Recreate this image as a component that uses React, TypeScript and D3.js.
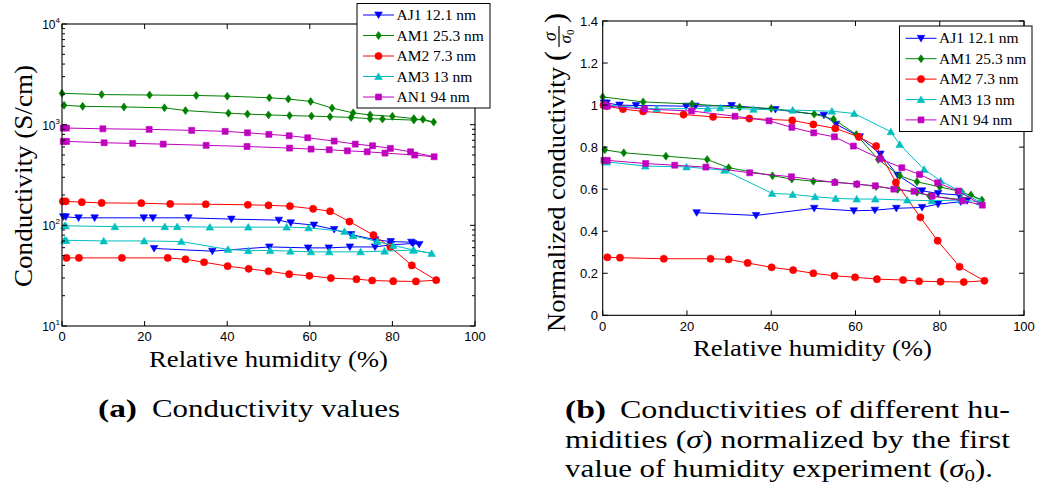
import React from "react";
import * as d3 from "d3";

// ---------------- DATA ----------------
const sampleNames = ["AJ1 12.1 nm", "AM1 25.3 nm", "AM2 7.3 nm", "AM3 13 nm", "AN1 94 nm"];
const sampleColors = ["#0000ff", "#008000", "#ff0000", "#00bfbf", "#bf00bf"];
const sampleMarkers = ["triDown", "diamond", "circle", "triUp", "square"];

// relative humidity (%) rising branch, conductivity (S/cm), normalized conductivity
const aj1UpRH = [0.3, 0.9, 4.0, 7.9, 19.8, 22.0, 30.6, 41.0, 52.5, 55.4, 61.0, 65.9, 70.0, 75.8, 79.6, 84.6, 86.5];
const aj1UpSigma = [121.5, 121.5, 118.7, 118.7, 118.7, 118.7, 118.7, 115.3, 112.6, 105.9, 100.5, 91, 81, 72, 69, 68, 64.6];
const aj1UpNorm = [1.01, 1.01, 1.0, 0.998, 0.995, 0.995, 0.998, 0.979, 0.952, 0.909, 0.849, 0.767, 0.667, 0.592, 0.58, 0.572, 0.545];
const aj1DownRH = [22.3, 36.4, 50.2, 59.6, 64.6, 69.7, 75.8, 79.6, 85.0];
const aj1DownSigma = [58.9, 55.4, 61, 59.7, 59.7, 61, 61, 64, 66];
const aj1DownNorm = [0.488, 0.475, 0.509, 0.497, 0.5, 0.509, 0.513, 0.529, 0.54];

const am1UpRH = [0, 9.6, 21.2, 32.5, 40, 50.2, 54.8, 60.2, 65.4, 70.5, 74.6, 80, 85.2, 90];
const am1UpSigma = [2050, 1990, 1970, 1950, 1920, 1850, 1800, 1700, 1460, 1310, 1250, 1210, 1150, 1060];
const am1UpNorm = [1.039, 1.015, 1.005, 0.99, 0.984, 0.957, 0.933, 0.86, 0.741, 0.664, 0.635, 0.611, 0.587, 0.548];
const am1DownRH = [0.5, 5, 15, 24.8, 29.9, 40.3, 44.9, 50, 55.1, 60.4, 64.9, 70, 74.6, 77.6, 85.2, 87.4];
const am1DownSigma = [1560, 1520, 1500, 1470, 1380, 1300, 1273, 1250, 1230, 1216, 1200, 1180, 1146, 1137, 1111, 1130];
const am1DownNorm = [0.787, 0.773, 0.757, 0.741, 0.702, 0.664, 0.648, 0.638, 0.634, 0.624, 0.613, 0.599, 0.585, 0.568, 0.55, 0.572];

const am2UpRH = [0.2, 0.9, 4.8, 9.6, 19.2, 26.2, 34.8, 45, 50, 55.2, 60.8, 64.9, 69.6, 75.4, 79.5, 84.7, 90.6];
const am2UpSigma = [173, 173, 170, 167, 166, 163, 162, 160, 158, 155, 146, 138, 109, 80, 61, 40, 28.5];
const am2UpNorm = [1.0, 0.995, 0.981, 0.97, 0.955, 0.944, 0.936, 0.927, 0.908, 0.889, 0.849, 0.805, 0.632, 0.466, 0.355, 0.231, 0.164];
const am2DownRH = [1.1, 4.1, 14.5, 25.6, 29.9, 34.4, 40.1, 45.2, 50, 55, 59.9, 65.1, 71.3, 75.1, 80.2, 85.7];
const am2DownSigma = [47.5, 47.5, 47.5, 47.5, 46, 43, 39.3, 37, 35, 32.7, 31.5, 29.9, 29.2, 28.3, 27.9, 27.7];
const am2DownNorm = [0.276, 0.274, 0.269, 0.269, 0.266, 0.249, 0.228, 0.215, 0.2, 0.188, 0.181, 0.172, 0.168, 0.162, 0.16, 0.158];

const am3UpRH = [0.6, 0.9, 12.8, 24.9, 27.9, 35.8, 45.1, 54.4, 59.7, 68.4, 70.5, 76.3, 80.2, 85.1, 89.5];
const am3UpSigma = [99, 99, 97, 97, 97, 96, 96, 96, 94.4, 87, 79, 69, 63, 57, 52.6];
const am3UpNorm = [1.0, 1.0, 0.982, 0.984, 0.987, 0.98, 0.976, 0.971, 0.96, 0.873, 0.813, 0.694, 0.64, 0.587, 0.54];
const am3DownRH = [0.6, 1, 10.1, 19.9, 28.9, 40.2, 45.1, 50.4, 55.3, 60.3, 64.7, 72.3, 78.1, 85.1];
const am3DownSigma = [71, 71, 70, 70, 69, 57.6, 56, 56.3, 55.4, 54.5, 54.5, 54.5, 55.4, 56.7];
const am3DownNorm = [0.73, 0.73, 0.71, 0.706, 0.69, 0.58, 0.575, 0.564, 0.556, 0.553, 0.553, 0.548, 0.545, 0.548];

const an1UpRH = [0.3, 1.1, 9.9, 21.1, 31.4, 39.5, 44.9, 50.1, 55, 59.5, 65.9, 71, 75.2, 79.5, 84.4, 90.1];
const an1UpSigma = [925, 925, 910, 898, 878, 858, 831, 801, 776, 741, 687, 641, 617, 581, 538, 480];
const an1UpNorm = [1.0, 0.995, 0.981, 0.972, 0.947, 0.925, 0.894, 0.868, 0.849, 0.805, 0.744, 0.702, 0.67, 0.63, 0.591, 0.524];
const an1DownRH = [0.3, 1.1, 10.2, 17.1, 24.5, 34.9, 44.8, 55.1, 60.3, 64.7, 69.1, 73.9, 78.2, 85.4];
const an1DownSigma = [682, 682, 661, 652, 641, 623, 607, 585, 572, 563, 550, 538, 522, 499];
const an1DownNorm = [0.737, 0.737, 0.722, 0.714, 0.705, 0.678, 0.659, 0.632, 0.624, 0.616, 0.6, 0.59, 0.567, 0.545];

const xTickValues = [0, 20, 40, 60, 80, 100];
const logMajorTicks = [10, 100, 1000, 10000];
const logExponents = ["1", "2", "3", "4"];
const normTickValues = [0, 0.2, 0.4, 0.6, 0.8, 1, 1.2, 1.4];
const normTickLabels = ["0", "0.2", "0.4", "0.6", "0.8", "1", "1.2", "1.4"];

// ---------------- BUILD ----------------
const rev = (a: number[]) => a.slice().reverse();
const branches = [
  [aj1UpRH, aj1UpSigma, aj1UpNorm, aj1DownRH, aj1DownSigma, aj1DownNorm],
  [am1UpRH, am1UpSigma, am1UpNorm, am1DownRH, am1DownSigma, am1DownNorm],
  [am2UpRH, am2UpSigma, am2UpNorm, am2DownRH, am2DownSigma, am2DownNorm],
  [am3UpRH, am3UpSigma, am3UpNorm, am3DownRH, am3DownSigma, am3DownNorm],
  [an1UpRH, an1UpSigma, an1UpNorm, an1DownRH, an1DownSigma, an1DownNorm],
];
const series = branches.map((b, i) => ({
  name: sampleNames[i],
  color: sampleColors[i],
  marker: sampleMarkers[i],
  rh: [...b[0], ...rev(b[3])],
  sigma: [...b[1], ...rev(b[4])],
  norm: [...b[2], ...rev(b[5])],
}));

const SANS = "'Liberation Sans', Arial, Helvetica, sans-serif";
const SERIF = "'Liberation Serif', 'Times New Roman', serif";

function markerPath(kind: string): string {
  switch (kind) {
    case "circle":
      return "M3.6,0A3.6,3.6 0 1,1 -3.6,0A3.6,3.6 0 1,1 3.6,0Z";
    case "square":
      return "M-3,-3H3V3H-3Z";
    case "diamond":
      return "M0,-4L2.9,0L0,4L-2.9,0Z";
    case "triUp":
      return "M0,-3.6L3.8,3L-3.8,3Z";
    case "triDown":
      return "M0,3.6L3.8,-3L-3.8,-3Z";
  }
  return "";
}

// left panel
const xL = d3.scaleLinear().domain([0, 100]).range([62, 475]);
const yL = d3.scaleLog().domain([10, 10000]).range([326, 24]);
// right panel
const xR = d3.scaleLinear().domain([0, 100]).range([602.7, 1024]);
const yR = d3.scaleLinear().domain([0, 1.4]).range([315.3, 21]);

const line = d3.line<[number, number]>().x((d) => d[0]).y((d) => d[1]);

function Series({ xs, ys, color, marker }: { xs: number[]; ys: number[]; color: string; marker: string }) {
  const pts: [number, number][] = xs.map((x, i) => [x, ys[i]]);
  const mp = markerPath(marker);
  return (
    <g>
      <path d={line(pts) || ""} fill="none" stroke={color} strokeWidth={1} />
      {pts.map(([x, y], i) => (
        <path key={i} d={mp} transform={`translate(${x},${y})`} fill={color} stroke={color} strokeWidth={0.6} />
      ))}
    </g>
  );
}

function Legend({ x, y, w, h, rowTop, rowStep }: { x: number; y: number; w: number; h: number; rowTop: number; rowStep: number }) {
  return (
    <g>
      <rect x={x} y={y} width={w} height={h} fill="#fff" stroke="#000" strokeWidth={1} />
      {series.map((s, i) => {
        const ry = y + rowTop + i * rowStep;
        return (
          <g key={s.name}>
            <line x1={x + 6} x2={x + 37} y1={ry} y2={ry} stroke={s.color} strokeWidth={1} />
            <path d={markerPath(s.marker)} transform={`translate(${x + 21.5},${ry})`} fill={s.color} stroke={s.color} strokeWidth={0.6} />
            <text x={x + 39.5} y={ry + 5} fontFamily={SERIF} fontSize={15.5} fill="#000">
              {s.name}
            </text>
          </g>
        );
      })}
    </g>
  );
}

export default function App() {
  const [lx0, lx1] = xL.range();
  const [ly1, ly0] = yL.range();
  const [rx0, rx1] = xR.range();
  const [ry1, ry0] = yR.range();
  const minorLog = yL.ticks().filter((t) => !logMajorTicks.includes(t));

  return (
    <div style={{ position: "absolute", left: 0, top: 0 }}>
      <svg width={1038} height={497} style={{ display: "block", background: "#fff" }}>
        {/* ---------- LEFT PANEL ---------- */}
        <g>
          {series.map((s) => (
            <Series key={s.name} xs={s.rh.map((v) => xL(v))} ys={s.sigma.map((v) => yL(v))} color={s.color} marker={s.marker} />
          ))}
          <rect x={lx0} y={ly0} width={lx1 - lx0} height={ly1 - ly0} fill="none" stroke="#000" strokeWidth={1.1} />
          {xTickValues.map((t) => (
            <g key={t}>
              <line x1={xL(t)} x2={xL(t)} y1={ly1} y2={ly1 - 5} stroke="#000" />
              <line x1={xL(t)} x2={xL(t)} y1={ly0} y2={ly0 + 5} stroke="#000" />
              <text x={xL(t)} y={341} textAnchor="middle" fontFamily={SANS} fontSize={13}>
                {t}
              </text>
            </g>
          ))}
          {logMajorTicks.map((t, i) => (
            <g key={t}>
              <line x1={lx0} x2={lx0 + 5} y1={yL(t)} y2={yL(t)} stroke="#000" />
              <line x1={lx1} x2={lx1 - 5} y1={yL(t)} y2={yL(t)} stroke="#000" />
              <text x={60} y={yL(t) + 5} textAnchor="end" fontFamily={SANS} fontSize={12}>
                10
                <tspan dy={-6} fontSize={8}>
                  {logExponents[i]}
                </tspan>
              </text>
            </g>
          ))}
          {minorLog.map((t) => (
            <g key={t}>
              <line x1={lx0} x2={lx0 + 3} y1={yL(t)} y2={yL(t)} stroke="#000" />
              <line x1={lx1} x2={lx1 - 3} y1={yL(t)} y2={yL(t)} stroke="#000" />
            </g>
          ))}
          <text x={268.5} y={367} textAnchor="middle" fontFamily={SERIF} fontSize={24} textLength={239} lengthAdjust="spacingAndGlyphs">
            Relative humidity (%)
          </text>
          <text transform="translate(31.5,176) rotate(-90)" textAnchor="middle" fontFamily={SERIF} fontSize={24.5} textLength={222} lengthAdjust="spacingAndGlyphs">
            Conductivity (S/cm)
          </text>
          <Legend x={357} y={3.5} w={133} h={104.5} rowTop={11.5} rowStep={20.5} />
        </g>

        {/* ---------- RIGHT PANEL ---------- */}
        <g>
          {series.map((s) => (
            <Series key={s.name} xs={s.rh.map((v) => xR(v))} ys={s.norm.map((v) => yR(v))} color={s.color} marker={s.marker} />
          ))}
          <rect x={rx0} y={ry0} width={rx1 - rx0} height={ry1 - ry0} fill="none" stroke="#000" strokeWidth={1.1} />
          {xTickValues.map((t) => (
            <g key={t}>
              <line x1={xR(t)} x2={xR(t)} y1={ry1} y2={ry1 - 5} stroke="#000" />
              <line x1={xR(t)} x2={xR(t)} y1={ry0} y2={ry0 + 5} stroke="#000" />
              <text x={xR(t)} y={330.5} textAnchor="middle" fontFamily={SANS} fontSize={13}>
                {t}
              </text>
            </g>
          ))}
          {normTickValues.map((t, i) => (
            <g key={t}>
              <line x1={rx0} x2={rx0 + 5} y1={yR(t)} y2={yR(t)} stroke="#000" />
              <line x1={rx1} x2={rx1 - 5} y1={yR(t)} y2={yR(t)} stroke="#000" />
              <text x={598} y={yR(t) + 4.5} textAnchor="end" fontFamily={SANS} fontSize={13}>
                {normTickLabels[i]}
              </text>
            </g>
          ))}
          <text x={812.5} y={356} textAnchor="middle" fontFamily={SERIF} fontSize={24} textLength={239} lengthAdjust="spacingAndGlyphs">
            Relative humidity (%)
          </text>
          <g transform="translate(565,171) rotate(-90)" fontFamily={SERIF}>
            <text x={-161} y={0} fontSize={24.5} textLength={265} lengthAdjust="spacingAndGlyphs">
              Normalized conductivity
            </text>
            <text x={110} y={0} fontSize={30}>
              (
            </text>
            <line x1={124} x2={145} y1={-6} y2={-6} stroke="#000" strokeWidth={1.2} />
            <text x={134.5} y={-9} fontSize={18} textAnchor="middle" fontStyle="italic">
              σ
            </text>
            <text x={134.5} y={6} fontSize={17} textAnchor="middle" fontStyle="italic">
              σ<tspan fontSize={11} dy={3} fontStyle="normal">0</tspan>
            </text>
            <text x={148} y={0} fontSize={30}>
              )
            </text>
          </g>
          <Legend x={899.5} y={26} w={132.5} h={105.5} rowTop={12.3} rowStep={20.4} />
        </g>

        {/* ---------- CAPTIONS ---------- */}
        <text x={98} y={417} fontFamily={SERIF} fontSize={25} fontWeight="bold" textLength={39} lengthAdjust="spacingAndGlyphs">
          (a)
        </text>
        <text x={152} y={417} fontFamily={SERIF} fontSize={25} textLength={248} lengthAdjust="spacingAndGlyphs">
          Conductivity values
        </text>
        <text x={565} y={418} fontFamily={SERIF} fontSize={25} fontWeight="bold" textLength={41} lengthAdjust="spacingAndGlyphs">
          (b)
        </text>
        <text x={620} y={418} fontFamily={SERIF} fontSize={25} textLength={390} lengthAdjust="spacingAndGlyphs">
          Conductivities of different hu-
        </text>
        <text x={565} y={448} fontFamily={SERIF} fontSize={25} textLength={445} lengthAdjust="spacingAndGlyphs">
          midities (<tspan fontStyle="italic">σ</tspan>) normalized by the first
        </text>
        <text x={565} y={477} fontFamily={SERIF} fontSize={25} textLength={428} lengthAdjust="spacingAndGlyphs">
          value of humidity experiment (<tspan fontStyle="italic">σ</tspan>
          <tspan fontSize={17} dy={4}>0</tspan>
          <tspan dy={-4}>).</tspan>
        </text>
      </svg>
    </div>
  );
}
